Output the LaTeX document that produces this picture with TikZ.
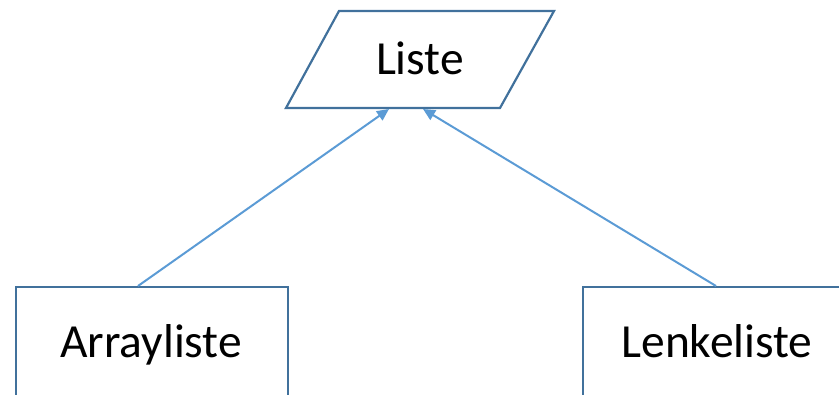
\documentclass[tikz,border=0pt]{standalone}
\usepackage{fontspec}
\setmainfont{Carlito}
\usetikzlibrary{arrows.meta}
\definecolor{edgeblue}{HTML}{41719C}
\definecolor{arrowblue}{HTML}{5B9BD5}
\begin{document}
\begin{tikzpicture}[x=1pt,y=-1pt,
  shapeline/.style={draw=edgeblue,line width=2.2pt},
  lbl/.style={font=\fontsize{47.5}{54}\selectfont,anchor=base,inner sep=0pt},
  boxnode/.style={shapeline,rectangle,minimum width=272pt,minimum height=120pt,anchor=north west,inner sep=0pt},
  inherit/.style={draw=arrowblue,line width=2pt,-{Triangle[length=12pt,width=11pt]}}]
\useasboundingbox (0,0) rectangle (839,395);
\clip (0,0) rectangle (839,395);
% parallelogram
\coordinate (p1) at (339,11);
\coordinate (p2) at (554,11);
\coordinate (p3) at (500,108);
\coordinate (p4) at (286,108);
\draw[shapeline,line join=miter] (p1) -- (p2) -- (p3) -- (p4) -- cycle;
\node[lbl] (liste) at (420,75) {Liste};
\coordinate (tipL) at (389,109);
\coordinate (tipR) at (423,109);
% boxes
\node[boxnode] (arr) at (15,286) {};
\node[lbl] (arrtxt) at (151,358) {Arrayliste};
\node[boxnode] (lenk) at (582,286) {};
\node[lbl] (lenktxt) at (717,358) {Lenkeliste};
\coordinate (srcL) at (138,286);
\coordinate (srcR) at (716,286);
% connectors
\draw[inherit] (srcL) -- (tipL);
\draw[inherit] (srcR) -- (tipR);
\end{tikzpicture}
\end{document}
